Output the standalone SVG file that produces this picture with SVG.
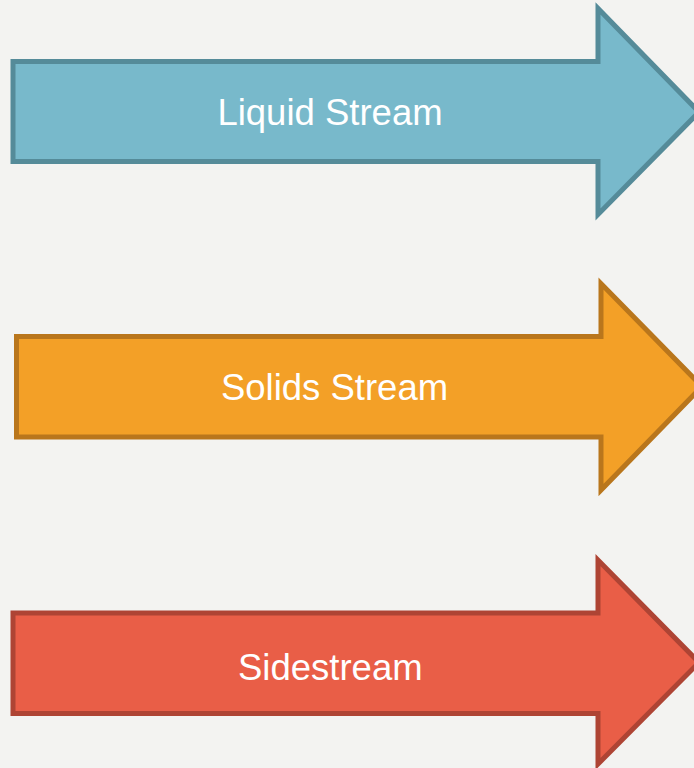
<svg xmlns="http://www.w3.org/2000/svg" width="694" height="768" viewBox="0 0 694 768">
<style>
.lbl{font-family:"Liberation Sans",Arial,sans-serif;font-size:36.5px;fill:#ffffff;text-anchor:middle}
.arr{stroke-width:5;stroke-linejoin:miter;stroke-miterlimit:10}
</style>
<rect width="694" height="768" fill="#F3F3F1"/>
<g id="liquid">
<path class="arr" d="M13,61.5 H598 V8.5 L699,112 L598,214.5 V161.5 H13 Z" fill="#78B9CB" stroke="#558B99"/>
<text class="lbl" x="330" y="124.5">Liquid Stream</text>
</g>
<g id="solids">
<path class="arr" d="M16.5,336.5 H601 V283.5 L702,386.5 L601,490 V437 H16.5 Z" fill="#F3A027" stroke="#B9761C"/>
<text class="lbl" x="334.5" y="399.5">Solids Stream</text>
</g>
<g id="side">
<path class="arr" d="M13,613 H598 V560 L699,662.5 L598,764 V713.5 H13 Z" fill="#E95E47" stroke="#AE4434"/>
<text class="lbl" x="330.3" y="679.5">Sidestream</text>
</g>
<g id="connectors"></g>
</svg>
